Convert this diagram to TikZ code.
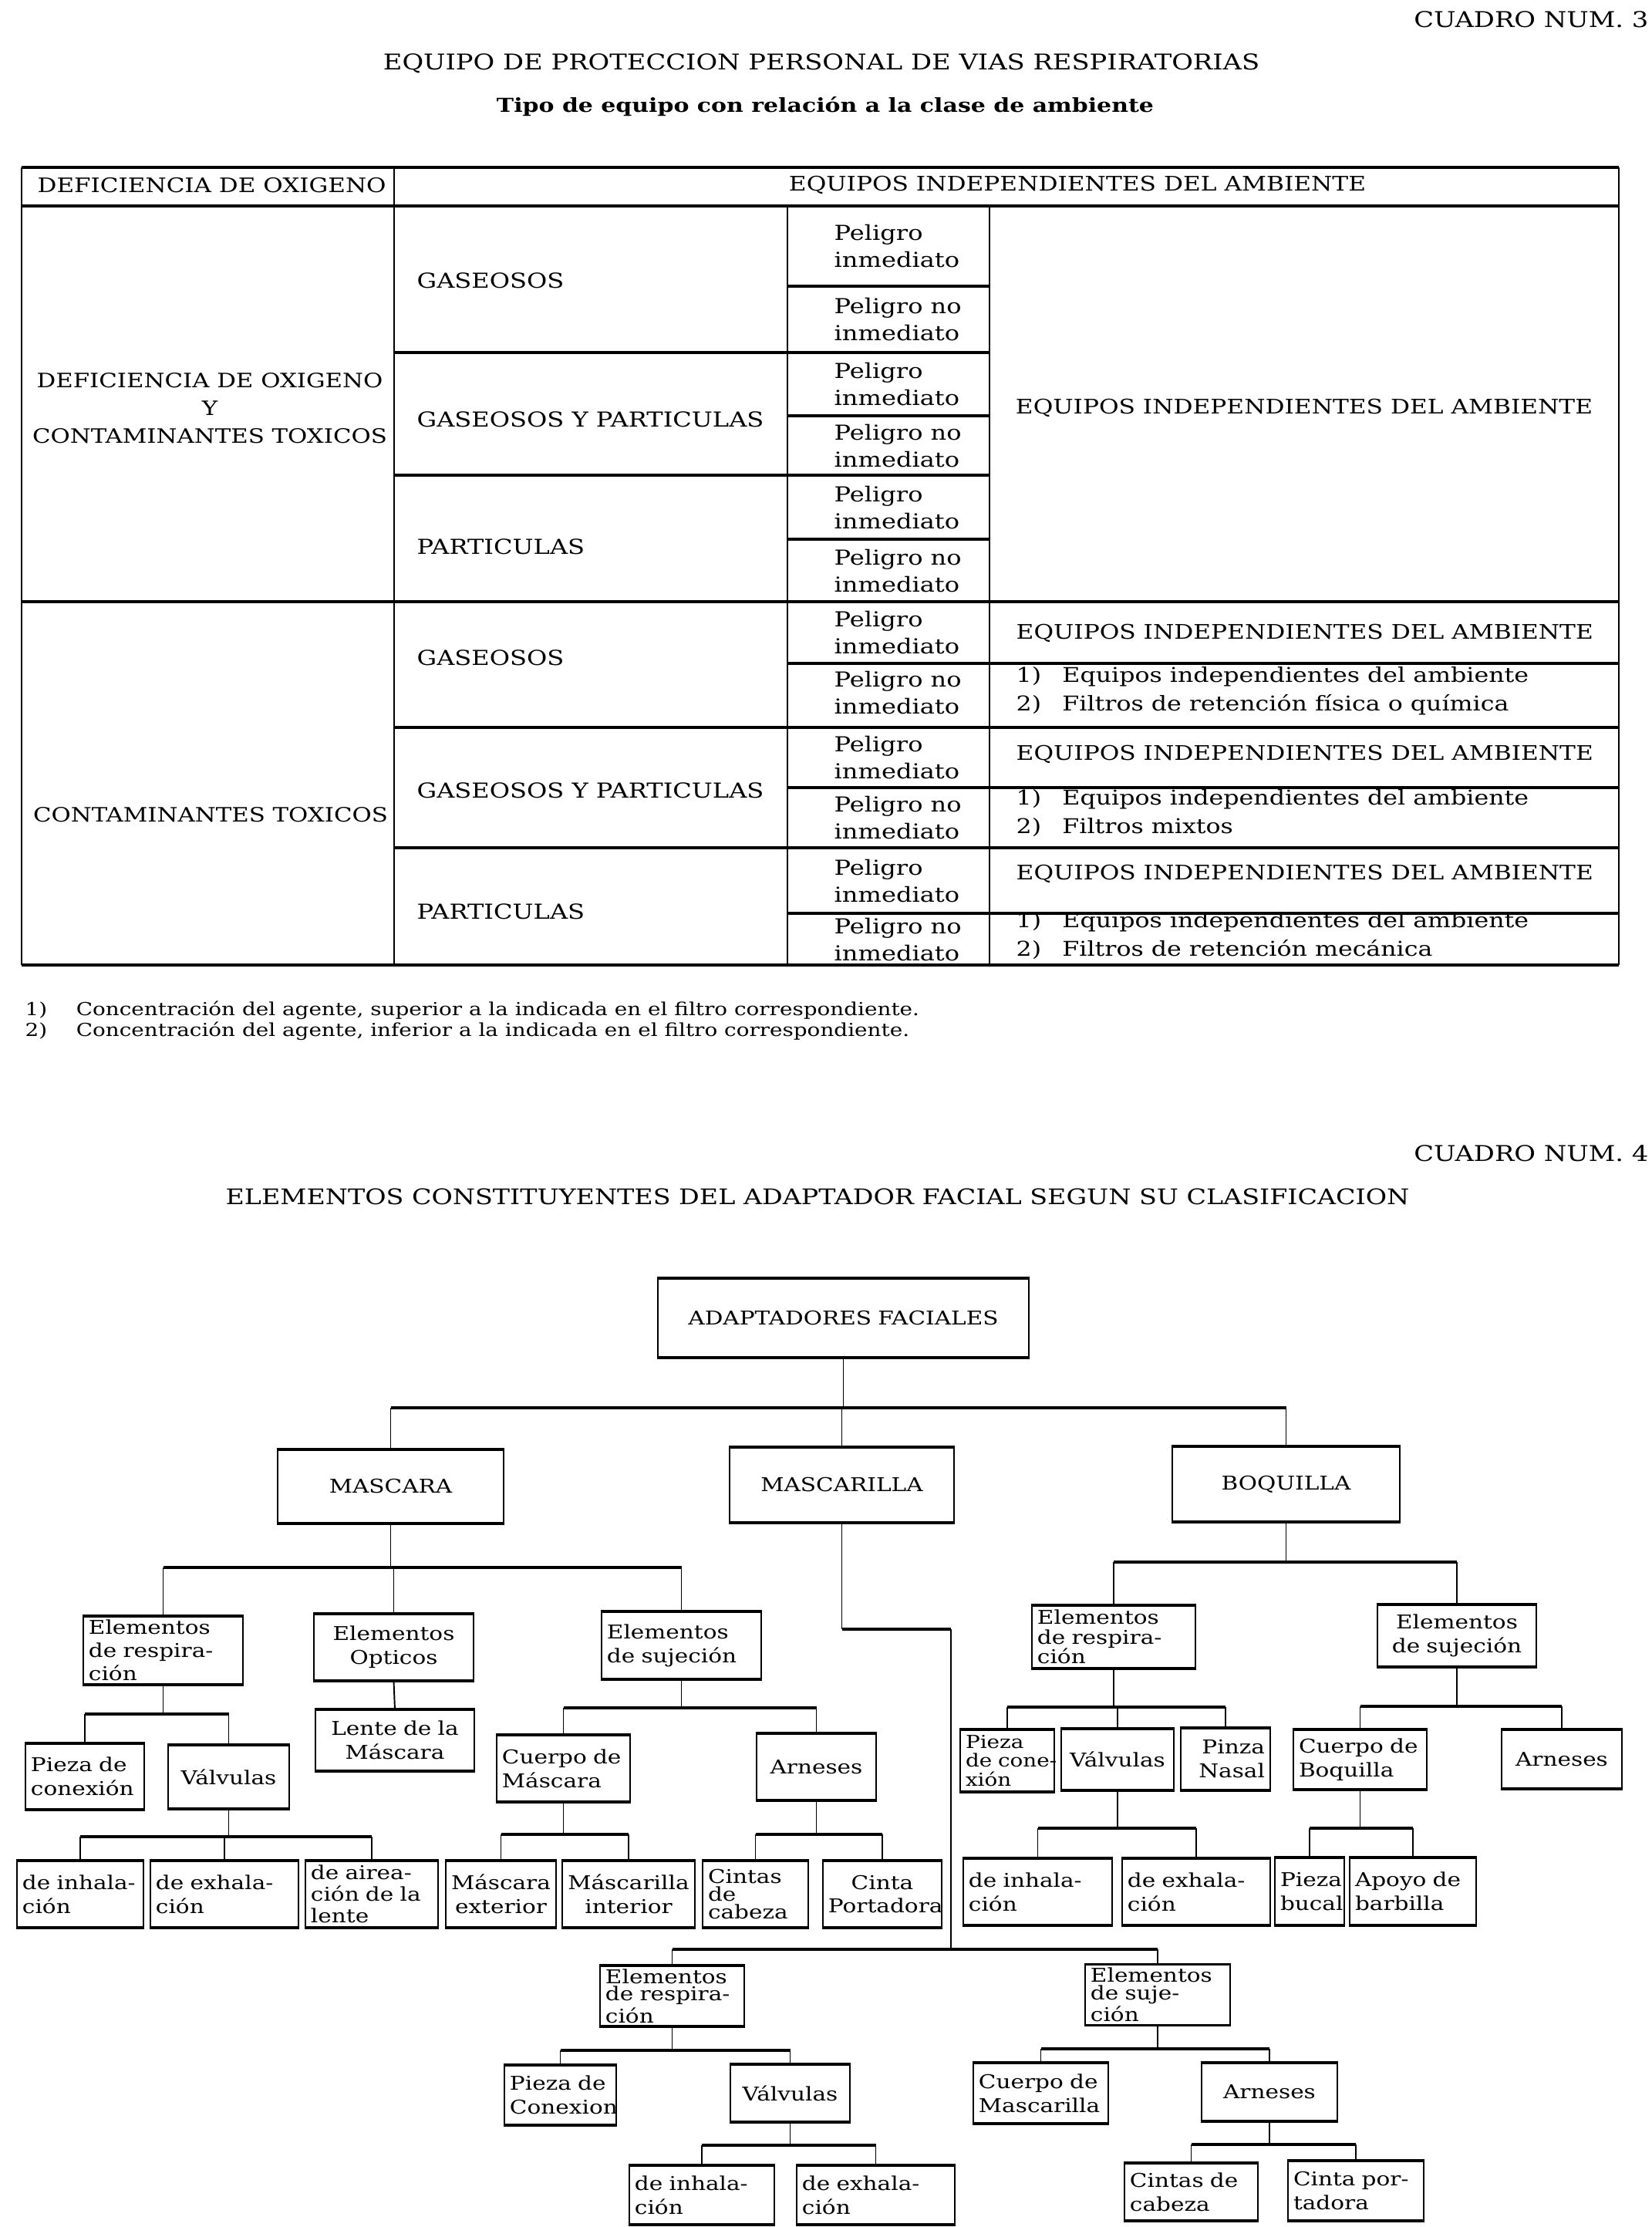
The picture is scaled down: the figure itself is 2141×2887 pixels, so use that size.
\documentclass[tikz,border=0pt]{standalone}
\usepackage{fontspec}
\setmainfont{DejaVu Serif}[FakeStretch=1.2]
\newcommand\tbf{\fontsize{7.6}{10}\selectfont}
\newcommand\trf{\fontsize{7}{8.8}\selectfont}
\newcommand\pinm{Peligro\\inmediato}
\newcommand\pnoi{Peligro no\\inmediato}
\newcommand\bxn[7][]{%
  \pgfmathsetmacro\bw{(#5-#3)*0.01}%
  \pgfmathsetmacro\bh{(#6-#4)*0.01}%
  \pgfmathsetmacro\tw{(#5-#3)*0.2845276-4}%
  \node[bx, minimum width=\bw cm, minimum height=\bh cm, text width=\tw pt, #1] (#2) at ({(#3+#5)/2},{(#4+#6)/2}) {#7};%
}
\newcommand\fork[5]{%
  \draw[cn] (#1.south) -- (#1.south |- 0,#2);
  \draw[bar] (#3.north |- 0,#2) -- (#4.north |- 0,#2);
  \foreach \c in {#3,#4#5} {\draw[cn] (\c.north |- 0,#2) -- (\c.north);}%
}
\begin{document}
\begin{tikzpicture}[x=0.01cm,y=-0.01cm,
  tv/.style={line width=0.7pt},
  th/.style={line width=1.1pt},
  txt/.style={inner sep=0pt, font=\tbf},
  eq/.style={txt, font=\fontsize{7.4}{10}\selectfont},
  bx/.style={draw, line width=0.55pt, inner xsep=2pt, inner ysep=1pt, font=\trf},
  cn/.style={line width=0.55pt},
  bar/.style={line width=1.1pt},
  hedge/.style={line width=1.0pt}]
\fill[white] (0,0) rectangle (2141,2887);
\useasboundingbox (0,0) rectangle (2141,2887);

% ---------------- CUADRO 3 ----------------
\node[txt, anchor=east, font=\fontsize{8}{9}\selectfont] (c3) at (2138,25) {CUADRO NUM. 3};
\node[txt, font=\fontsize{8}{9}\selectfont] (t3) at (1065,82) {EQUIPO DE PROTECCION PERSONAL DE VIAS RESPIRATORIAS};
\node[txt, font=\bfseries\fontsize{7.1}{9}\selectfont] (s3) at (1070,138) {Tipo de equipo con relación a la clase de ambiente};

% vertical lines
\draw[tv] (28,217) -- (28,1251);
\draw[tv] (511,217) -- (511,1251);
\draw[tv] (1021,267) -- (1021,1251);
\draw[tv] (1283,267) -- (1283,1251);
\draw[tv] (2099,217) -- (2099,1251);
% horizontal lines
\draw[th] (28,217) -- (2099,217);
\draw[th] (28,267) -- (2099,267);
\draw[th] (1021,371) -- (1283,371);
\draw[th] (511,457) -- (1283,457);
\draw[th] (1021,539) -- (1283,539);
\draw[th] (511,616) -- (1283,616);
\draw[th] (1021,699) -- (1283,699);
\draw[th] (28,780) -- (2099,780);
\draw[th] (1021,860) -- (2099,860);
\draw[th] (511,943) -- (2099,943);
\draw[th] (1021,1021) -- (2099,1021);
\draw[th] (511,1099) -- (2099,1099);
\draw[th] (1021,1184) -- (2099,1184);
\draw[th] (28,1251) -- (2099,1251);

\node[txt, anchor=west, font=\fontsize{7.35}{10}\selectfont] (h1) at (48,240) {DEFICIENCIA DE OXIGENO};
\node[eq] (h2) at (1397,240) {EQUIPOS INDEPENDIENTES DEL AMBIENTE};
\node[txt, align=center, font=\fontsize{7.3}{10.2}\selectfont] (r1) at (272,529) {DEFICIENCIA DE OXIGENO\\Y\\CONTAMINANTES TOXICOS};
\node[txt, anchor=west] (g1) at (540,364) {GASEOSOS};
\node[txt, anchor=west] (gp1) at (540,544) {GASEOSOS Y PARTICULAS};
\node[txt, anchor=west] (p1) at (540,709) {PARTICULAS};
\node[eq] (e1) at (1691,529) {EQUIPOS INDEPENDIENTES DEL AMBIENTE};

\foreach \y/\t [count=\i] in {319/\pinm, 414/\pnoi, 498/\pinm, 578/\pnoi, 658/\pinm, 740/\pnoi,
    820/\pinm, 898/\pnoi, 982/\pinm, 1060/\pnoi, 1142/\pinm, 1218/\pnoi}
  \node[txt, anchor=west, align=left] (pe\i) at (1081,\y) {\t};

\node[txt, font=\fontsize{7.3}{10}\selectfont] (r2) at (273,1056) {CONTAMINANTES TOXICOS};
\node[txt, anchor=west] (g2) at (540,853) {GASEOSOS};
\node[txt, anchor=west] (gp2) at (540,1025) {GASEOSOS Y PARTICULAS};
\node[txt, anchor=west] (p2) at (540,1182) {PARTICULAS};

\node[eq, anchor=west] (e2) at (1317,821) {EQUIPOS INDEPENDIENTES DEL AMBIENTE};
\node[txt, anchor=west, align=left, font=\fontsize{7.5}{10.6}\selectfont] (l2) at (1317,896)
  {\makebox[17pt][l]{1)}Equipos independientes del ambiente\\\makebox[17pt][l]{2)}Filtros de retención física o química};
\node[eq, anchor=west] (e3) at (1317,978) {EQUIPOS INDEPENDIENTES DEL AMBIENTE};
\node[txt, anchor=west, align=left, font=\fontsize{7.5}{10.6}\selectfont] (l3) at (1317,1054)
  {\makebox[17pt][l]{1)}Equipos independientes del ambiente\\\makebox[17pt][l]{2)}Filtros mixtos};
\node[eq, anchor=west] (e4) at (1317,1133) {EQUIPOS INDEPENDIENTES DEL AMBIENTE};
\node[txt, anchor=west, align=left, font=\fontsize{7.5}{10.6}\selectfont] (l4) at (1317,1213)
  {\makebox[17pt][l]{1)}Equipos independientes del ambiente\\\makebox[17pt][l]{2)}Filtros de retención mecánica};

\node[txt, anchor=west, align=left, font=\fontsize{6.6}{7.6}\selectfont] (fn) at (32,1323)
  {\makebox[18.8pt][l]{1)}Concentración del agente, superior a la indicada en el filtro correspondiente.\\
   \makebox[18.8pt][l]{2)}Concentración del agente, inferior a la indicada en el filtro correspondiente.};

% ---------------- CUADRO 4 ----------------
\node[txt, anchor=east, font=\fontsize{8}{9}\selectfont] (c4) at (2138,1495) {CUADRO NUM. 4};
\node[txt, font=\fontsize{7.9}{9}\selectfont] (t4) at (1060,1551) {ELEMENTOS CONSTITUYENTES DEL ADAPTADOR FACIAL SEGUN SU CLASIFICACION};

\bxn[align=center]{adapt}{853}{1658}{1334}{1759}{ADAPTADORES FACIALES}
\bxn[align=center]{mascara}{360}{1880}{653}{1974}{MASCARA}
\bxn[align=center]{mascarilla}{946}{1877}{1237}{1973}{MASCARILLA}
\bxn[align=center]{boquilla}{1520}{1876}{1815}{1972}{BOQUILLA}

\bxn[align=left, font=\fontsize{7}{8.6}\selectfont]{mresp}{108}{2096}{315}{2183}{Elementos\\de respira-\\ción}
\bxn[align=center]{mopt}{407}{2093}{614}{2178}{Elementos\\Opticos}
\bxn[align=left]{msuj}{780}{2090}{987}{2176}{Elementos\\de sujeción}
\bxn[align=left]{mpieza}{33}{2261}{187}{2345}{Pieza de\\conexión}
\bxn[align=center]{mvalv}{218}{2263}{375}{2344}{Válvulas}
\bxn[align=center]{mlente}{409}{2217}{615}{2295}{Lente de la\\Máscara}
\bxn[align=left]{mcuerpo}{644}{2250}{817}{2335}{Cuerpo de\\Máscara}
\bxn[align=center]{marn}{981}{2248}{1136}{2333}{Arneses}
\bxn[align=left]{minh}{22}{2413}{186}{2498}{de inhala-\\ción}
\bxn[align=left]{mexh}{195}{2413}{387}{2498}{de exhala-\\ción}
\bxn[align=left, font=\fontsize{7}{8}\selectfont]{maire}{396}{2413}{568}{2498}{de airea-\\ción de la\\lente}
\bxn[align=center]{mext}{578}{2413}{721}{2498}{Máscara\\exterior}
\bxn[align=center]{mint}{729}{2413}{901}{2498}{Máscarilla\\interior}
\bxn[align=left, font=\fontsize{7}{6.6}\selectfont]{mcint}{911}{2413}{1048}{2498}{Cintas\\de\\cabeza}
\bxn[align=center]{mport}{1067}{2413}{1221}{2498}{Cinta\\Portadora}

\bxn[align=left, font=\fontsize{7}{7.2}\selectfont]{bresp}{1338}{2082}{1550}{2162}{Elementos\\de respira-\\ción}
\bxn[align=center]{bsuj}{1786}{2081}{1992}{2160}{Elementos\\de sujeción}
\bxn[align=left, inner xsep=1pt, font=\fontsize{6.6}{7}\selectfont]{bpieza}{1245}{2243}{1367}{2322}{Pieza\\\mbox{de cone-}\\xión}
\bxn[align=center]{bvalv}{1376}{2242}{1522}{2320}{Válvulas}
\bxn[align=right]{bpinza}{1531}{2241}{1647}{2320}{Pinza\\Nasal}
\bxn[align=left]{bcuerpo}{1677}{2243}{1850}{2319}{Cuerpo de\\Boquilla}
\bxn[align=center]{barn}{1947}{2243}{2103}{2318}{Arneses}
\bxn[align=left]{binh}{1249}{2410}{1442}{2495}{de inhala-\\ción}
\bxn[align=left]{bexh}{1455}{2410}{1647}{2495}{de exhala-\\ción}
\bxn[align=center]{bbuc}{1653}{2409}{1743}{2495}{Pieza\\bucal}
\bxn[align=left]{bapo}{1750}{2409}{1914}{2495}{Apoyo de\\barbilla}

\bxn[align=left, font=\fontsize{7}{6.4}\selectfont]{xresp}{778}{2550}{965}{2625}{Elementos\\de respira-\\ción}
\bxn[align=left, font=\fontsize{7}{6.4}\selectfont]{xsuj}{1407}{2549}{1595}{2623}{Elementos\\de suje-\\ción}
\bxn[align=left]{xpieza}{654}{2678}{799}{2754}{Pieza de\\Conexion}
\bxn[align=center]{xvalv}{947}{2677}{1102}{2750}{Válvulas}
\bxn[align=left]{xcuerpo}{1262}{2675}{1437}{2752}{Cuerpo de\\Mascarilla}
\bxn[align=center]{xarn}{1558}{2675}{1734}{2749}{Arneses}
\bxn[align=left]{xinh}{816}{2808}{1004}{2883}{de inhala-\\ción}
\bxn[align=left]{xexh}{1033}{2808}{1238}{2883}{de exhala-\\ción}
\bxn[align=left]{xcint}{1458}{2805}{1631}{2878}{Cintas de\\cabeza}
\bxn[align=left]{xport}{1670}{2802}{1846}{2878}{Cinta por-\\tadora}

\foreach \n in {adapt,mascara,mascarilla,boquilla,mresp,mopt,msuj,mpieza,mvalv,mlente,mcuerpo,marn,
  minh,mexh,maire,mext,mint,mcint,mport,bresp,bsuj,bpieza,bvalv,bpinza,bcuerpo,barn,binh,bexh,bbuc,bapo,
  xresp,xsuj,xpieza,xvalv,xcuerpo,xarn,xinh,xexh,xcint,xport}
  \draw[hedge] (\n.north west) -- (\n.north east) (\n.south west) -- (\n.south east);

% connectors
\fork{adapt}{1825}{mascara}{boquilla}{,mascarilla}
\fork{mascara}{2032}{mresp}{msuj}{,mopt}
\fork{mresp}{2222}{mpieza}{mvalv}{}
\draw[cn] (mopt.south) -- (mlente.north);
\fork{msuj}{2214}{mcuerpo}{marn}{}
\fork{mvalv}{2381}{minh}{maire}{,mexh}
\fork{mcuerpo}{2378}{mext}{mint}{}
\fork{marn}{2378}{mcint}{mport}{}
\fork{boquilla}{2025}{bresp}{bsuj}{}
\fork{bresp}{2213}{bpieza}{bpinza}{,bvalv}
\fork{bvalv}{2370}{binh}{bexh}{}
\fork{bsuj}{2212}{bcuerpo}{barn}{}
\fork{bcuerpo}{2370}{bbuc}{bapo}{}

\coordinate (mk) at (1233,2112);
\draw[cn] (mascarilla.south) -- (mascarilla.south |- mk);
\draw[bar] (mascarilla.south |- mk) -- (mk);
\draw[cn] (mk) -- (mk |- 0,2527);
\draw[bar] (xresp.north |- 0,2527) -- (xsuj.north |- 0,2527);
\draw[cn] (xresp.north |- 0,2527) -- (xresp.north);
\draw[cn] (xsuj.north |- 0,2527) -- (xsuj.north);
\fork{xresp}{2658}{xpieza}{xvalv}{}
\fork{xvalv}{2781}{xinh}{xexh}{}
\fork{xsuj}{2656}{xcuerpo}{xarn}{}
\fork{xarn}{2780}{xcint}{xport}{}
\end{tikzpicture}
\end{document}
